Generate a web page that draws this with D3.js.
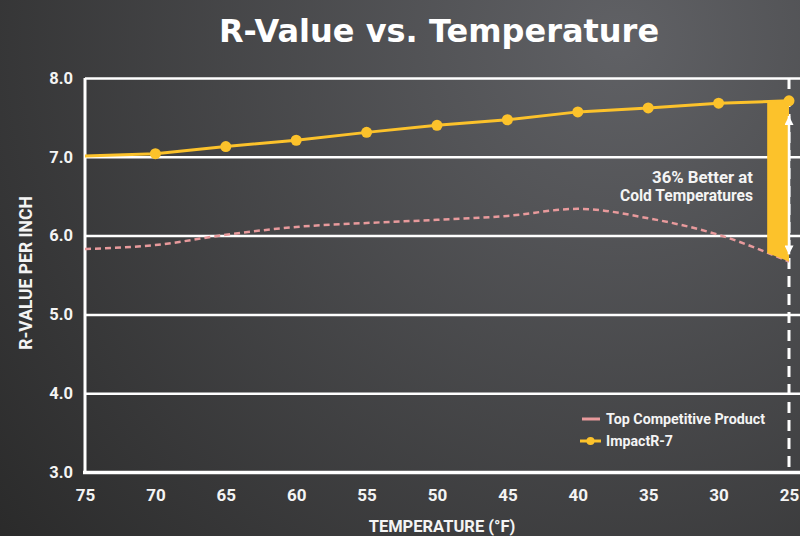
<!DOCTYPE html>
<html>
<head>
<meta charset="utf-8">
<script src="https://cdn.jsdelivr.net/npm/d3@7"></script>
<style>
    html, body { margin: 0; padding: 0; background: #3a3a3b; }
    svg { display: block; }
    .num { font-family: Roboto, "Liberation Sans", sans-serif; font-weight: 700; fill: #f4f4f4; }
</style>
</head>
<body>
<div id="container"></div>
<script>
// 数据
const temps = [75, 70, 65, 60, 55, 50, 45, 40, 35, 30, 25];
const impactR7 = [7.01, 7.04, 7.13, 7.21, 7.31, 7.40, 7.47, 7.57, 7.62, 7.68, 7.71];
const competitor = [5.83, 5.88, 6.01, 6.11, 6.16, 6.20, 6.25, 6.34, 6.22, 6.01, 5.67];
const yTicks = [3, 4, 5, 6, 7, 8];
const xTicks = [75, 70, 65, 60, 55, 50, 45, 40, 35, 30, 25];
// 右侧黄色差值条 (温度范围, 上沿, 下沿)
const gapTemps = [26.55, 25];
const gapTop = [7.70, 7.71];
const gapBottom = [5.78, 5.67];
const arrowRange = [7.62, 5.66];
const annotationLines = ['36% Better at', 'Cold Temperatures'];
const seriesNames = ['Top Competitive Product', 'ImpactR-7'];

const width = 800;
const height = 536;
const margin = {left: 85, right: 11, top: 78, bottom: 64};
const innerWidth = width - margin.left - margin.right;
const innerHeight = height - margin.top - margin.bottom;
const yellow = '#fcc22b';
const pink = '#e89a9c';

const svg = d3.select('#container')
    .append('svg')
    .attr('width', width)
    .attr('height', height);

// 背景渐变
const defs = svg.append('defs');
const bg = defs.append('radialGradient')
    .attr('id', 'bg')
    .attr('gradientUnits', 'userSpaceOnUse')
    .attr('cx', 620).attr('cy', 40).attr('r', 800);
bg.append('stop').attr('offset', 0).attr('stop-color', '#606165');
bg.append('stop').attr('offset', 1).attr('stop-color', '#2a2a2a');
svg.append('rect').attr('width', width).attr('height', height).attr('fill', 'url(#bg)');

['arrowUp', 'arrowDown'].forEach((id, i) => {
    defs.append('marker')
        .attr('id', id)
        .attr('viewBox', '0 0 10 10')
        .attr('refX', 5).attr('refY', i === 0 ? 0 : 10)
        .attr('markerWidth', 9).attr('markerHeight', 9)
        .attr('markerUnits', 'userSpaceOnUse')
        .attr('orient', 0)
        .append('path')
        .attr('d', i === 0 ? 'M5,0 L10,10 L0,10 Z' : 'M0,0 L10,0 L5,10 Z')
        .attr('fill', '#ffffff');
});

// 标题
svg.append('text')
    .attr('x', 439).attr('y', 42)
    .attr('text-anchor', 'middle')
    .attr('font-family', '"DejaVu Sans", sans-serif')
    .attr('font-weight', 700)
    .attr('font-size', 32)
    .attr('fill', '#ffffff')
    .text('R-Value vs. Temperature');

const g = svg.append('g').attr('transform', `translate(${margin.left},${margin.top})`);

// 比例尺
const xScale = d3.scaleLinear().domain([75, 25]).range([0, innerWidth]);
const yScale = d3.scaleLinear().domain([3, 8]).range([innerHeight, 0]);

// y 轴与网格线
const yAxis = d3.axisLeft(yScale)
    .tickValues(yTicks)
    .tickFormat(d3.format('.1f'))
    .tickSize(-(innerWidth + margin.right))
    .tickPadding(12);
const yAxisG = g.append('g').call(yAxis);
yAxisG.select('.domain').remove();
yAxisG.selectAll('.tick line')
    .attr('stroke', '#ffffff')
    .attr('stroke-width', d => d === 3 ? 3.5 : 2.5);
yAxisG.selectAll('.tick').filter(d => d === 3).select('line').attr('x1', -2);
yAxisG.selectAll('.tick text')
    .attr('class', 'num')
    .attr('font-size', 16.5);

// 左侧竖线
g.append('line')
    .attr('x1', 0).attr('x2', 0)
    .attr('y1', yScale(8)).attr('y2', yScale(3))
    .attr('stroke', '#ffffff').attr('stroke-width', 3);

// x 轴
const xAxis = d3.axisBottom(xScale)
    .tickValues(xTicks)
    .tickSize(0)
    .tickPadding(17);
const xAxisG = g.append('g').attr('transform', `translate(0,${innerHeight})`).call(xAxis);
xAxisG.select('.domain').remove();
xAxisG.selectAll('.tick text')
    .attr('class', 'num')
    .attr('font-size', 17);

// 轴标题
svg.append('text')
    .attr('class', 'num')
    .attr('x', 442).attr('y', 532)
    .attr('text-anchor', 'middle')
    .attr('font-size', 16.5)
    .text('TEMPERATURE (°F)');
svg.append('text')
    .attr('class', 'num')
    .attr('transform', `translate(32,${margin.top + innerHeight / 2 - 2}) rotate(-90)`)
    .attr('text-anchor', 'middle')
    .attr('font-size', 17.5)
    .text('R-VALUE PER INCH');

// 右侧虚线
g.append('line')
    .attr('x1', xScale(25)).attr('x2', xScale(25))
    .attr('y1', yScale(8)).attr('y2', yScale(3))
    .attr('stroke', '#ffffff').attr('stroke-width', 3)
    .attr('stroke-dasharray', '11,7');

// 竞品曲线
const compData = temps.map((t, i) => ({t, v: competitor[i]}));
const impactData = temps.map((t, i) => ({t, v: impactR7[i]}));

g.append('path')
    .datum(compData)
    .attr('fill', 'none')
    .attr('stroke', pink)
    .attr('stroke-width', 2.5)
    .attr('stroke-dasharray', '6,4')
    .attr('d', d3.line().x(d => xScale(d.t)).y(d => yScale(d.v)).curve(d3.curveMonotoneX));

// ImpactR-7 折线
g.append('path')
    .datum(impactData)
    .attr('fill', 'none')
    .attr('stroke', yellow)
    .attr('stroke-width', 3)
    .attr('d', d3.line().x(d => xScale(d.t)).y(d => yScale(d.v)));

// 黄色差值条
const gapData = gapTemps.map((t, i) => ({t, top: gapTop[i], bottom: gapBottom[i]}));
g.append('path')
    .datum(gapData)
    .attr('fill', yellow)
    .attr('d', d3.area().x(d => xScale(d.t)).y0(d => yScale(d.bottom)).y1(d => yScale(d.top)));

g.selectAll('.dot')
    .data(impactData.filter(d => d.t !== 75))
    .enter()
    .append('circle')
    .attr('class', 'dot')
    .attr('cx', d => xScale(d.t))
    .attr('cy', d => yScale(d.v))
    .attr('r', 5.5)
    .attr('fill', yellow);

// 双向箭头
g.append('line')
    .attr('x1', xScale(25)).attr('x2', xScale(25))
    .attr('y1', yScale(arrowRange[0]) + 8).attr('y2', yScale(arrowRange[1]) - 8)
    .attr('stroke', '#ffffff').attr('stroke-width', 2.5)
    .attr('marker-start', 'url(#arrowUp)')
    .attr('marker-end', 'url(#arrowDown)');

// 注释 (窄体字用 textLength 压缩)
const noteWidths = [101, 133];
annotationLines.forEach((line, i) => {
    g.append('text')
        .attr('class', 'num')
        .attr('text-anchor', 'end')
        .attr('font-size', 17)
        .attr('x', 753 - margin.left)
        .attr('y', 183 - margin.top + i * 18)
        .attr('textLength', noteWidths[i])
        .attr('lengthAdjust', 'spacingAndGlyphs')
        .text(line);
});

// 图例
const legendWidths = [159, 67];
const legend = g.append('g').attr('transform', `translate(${580 - margin.left},${419 - margin.top})`);
seriesNames.forEach((name, i) => {
    const row = legend.append('g').attr('transform', `translate(0,${i * 22})`);
    row.append('line')
        .attr('x1', i === 0 ? 2 : 0).attr('x2', i === 0 ? 20 : 21)
        .attr('stroke', i === 0 ? pink : yellow)
        .attr('stroke-width', 3);
    if (i === 1) {
        row.append('circle').attr('cx', 10.5).attr('r', 4).attr('fill', yellow);
    }
    row.append('text')
        .attr('class', 'num')
        .attr('x', 26).attr('dy', '0.36em')
        .attr('font-size', 15)
        .attr('textLength', legendWidths[i])
        .attr('lengthAdjust', 'spacingAndGlyphs')
        .text(name);
});
</script>
</body>
</html>
